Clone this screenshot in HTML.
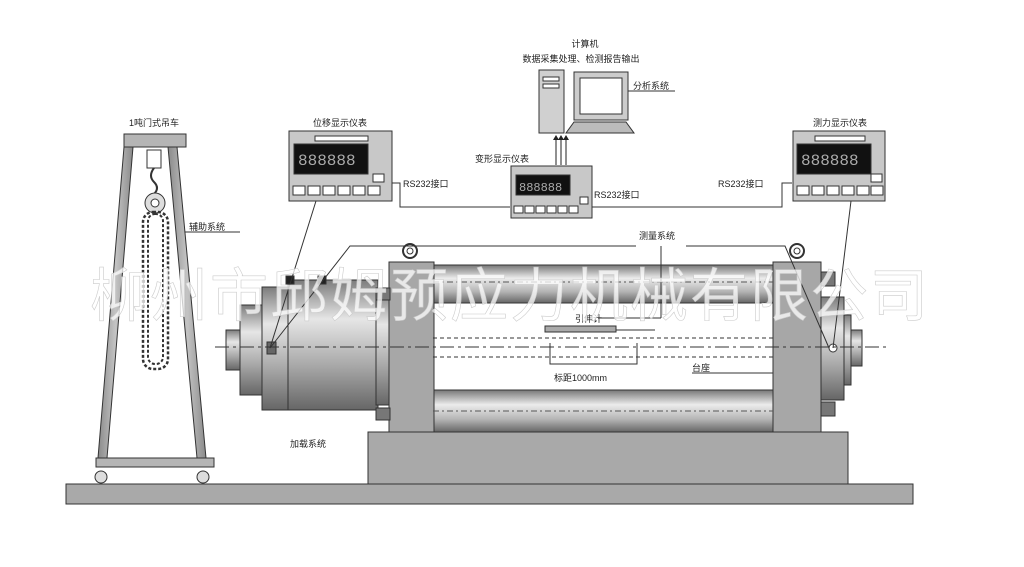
<!DOCTYPE html>
<html><head><meta charset="utf-8"><style>
html,body{margin:0;padding:0;background:#fff;}
svg{display:block;font-family:"Liberation Sans","Noto Sans CJK SC",sans-serif;}
</style></head><body>
<svg width="1024" height="567" viewBox="0 0 1024 567" xmlns="http://www.w3.org/2000/svg">
<defs>
<linearGradient id="rod" x1="0" y1="0" x2="0" y2="1">
<stop offset="0" stop-color="#777"/><stop offset="0.35" stop-color="#ececec"/><stop offset="0.7" stop-color="#b4b4b4"/><stop offset="1" stop-color="#666"/></linearGradient>
<linearGradient id="cyl" x1="0" y1="0" x2="0" y2="1">
<stop offset="0" stop-color="#7c7c7c"/><stop offset="0.3" stop-color="#e6e6e6"/><stop offset="0.65" stop-color="#aaa"/><stop offset="1" stop-color="#666"/></linearGradient>
<linearGradient id="leg" x1="0" y1="0" x2="1" y2="0">
<stop offset="0" stop-color="#8a8a8a"/><stop offset="0.5" stop-color="#c4c4c4"/><stop offset="1" stop-color="#8a8a8a"/></linearGradient>
</defs>
<g stroke="#333" stroke-width="1">
<rect x="66" y="484" width="847" height="20" fill="#a9a9a9"/>
<rect x="368" y="432" width="480" height="52" fill="#a9a9a9"/>
<rect x="124" y="134" width="62" height="13" fill="#b5b5b5"/>
<polygon points="124,147 133,147 107,458 98,458" fill="url(#leg)"/>
<polygon points="168,147 177,147 206,458 197,458" fill="url(#leg)"/>
<rect x="96" y="458" width="118" height="9" fill="#b5b5b5"/>
<circle cx="101" cy="477" r="6" fill="#ddd"/><circle cx="203" cy="477" r="6" fill="#ddd"/>
<rect x="147" y="150" width="14" height="18" fill="#fff"/>
<path d="M154,168 q-6,8 0,14 q6,6 0,12" fill="none" stroke-width="2"/>
<circle cx="155" cy="203" r="10" fill="#ddd"/><circle cx="155" cy="203" r="4" fill="#fff"/>
<rect x="143" y="212" width="25" height="157" rx="10" fill="none" stroke-width="2.5" stroke-dasharray="3,2"/>
<rect x="148" y="214" width="15" height="150" rx="7" fill="none" stroke-width="2" stroke-dasharray="3,2"/>
<rect x="226" y="330" width="16" height="40" fill="url(#cyl)"/>
<rect x="240" y="305" width="24" height="90" fill="url(#cyl)"/>
<rect x="262" y="287" width="28" height="123" fill="url(#cyl)"/>
<rect x="288" y="280" width="90" height="130" fill="url(#cyl)"/>
<rect x="376" y="290" width="14" height="115" fill="url(#cyl)"/>
<rect x="433" y="265" width="342" height="38" fill="url(#rod)"/>
<rect x="433" y="390" width="342" height="42" fill="url(#rod)"/>
<rect x="389" y="262" width="45" height="170" fill="#a7a7a7"/>
<rect x="773" y="262" width="48" height="170" fill="#a7a7a7"/>
<circle cx="410" cy="251" r="7" fill="#fff" stroke-width="2"/><circle cx="410" cy="251" r="3" fill="#fff"/>
<circle cx="797" cy="251" r="7" fill="#fff" stroke-width="2"/><circle cx="797" cy="251" r="3" fill="#fff"/>
<rect x="376" y="288" width="14" height="12" fill="#777"/><rect x="376" y="408" width="14" height="12" fill="#777"/>
<rect x="821" y="272" width="14" height="14" fill="#777"/><rect x="821" y="402" width="14" height="14" fill="#777"/>
<rect x="821" y="297" width="23" height="103" fill="url(#cyl)"/>
<rect x="844" y="315" width="7" height="70" fill="url(#cyl)"/>
<rect x="851" y="330" width="11" height="36" fill="url(#cyl)"/>
<circle cx="833" cy="348" r="4" fill="#fff"/>
<rect x="267" y="342" width="9" height="12" fill="#666"/>
<rect x="286" y="276" width="8" height="8" fill="#222"/><rect x="318" y="276" width="8" height="8" fill="#222"/>
</g>
<g fill="none" stroke="#333">
<line x1="215" y1="347" x2="890" y2="347" stroke-dasharray="14,4,3,4"/>
<line x1="433" y1="338" x2="773" y2="338" stroke-dasharray="4,3"/>
<line x1="433" y1="357" x2="773" y2="357" stroke-dasharray="4,3"/>
<line x1="433" y1="282" x2="773" y2="282" stroke-dasharray="6,3,2,3" stroke="#555"/>
<line x1="433" y1="411" x2="773" y2="411" stroke-dasharray="6,3,2,3" stroke="#555"/>
<polyline points="550,343 550,364 637,364 637,343"/>
<line x1="616" y1="330" x2="655" y2="330"/>
<line x1="598" y1="318" x2="661" y2="318"/>
<line x1="661" y1="246" x2="661" y2="318"/>
<polyline points="270,348 350,246 636,246"/>
<polyline points="686,246 785,246 829,348"/>
<line x1="692" y1="373" x2="773" y2="373"/>
<line x1="316" y1="201" x2="270" y2="348"/>
<line x1="851" y1="201" x2="833" y2="348"/>
<line x1="185" y1="232" x2="240" y2="232"/>
<polyline points="392,183 400,183 400,207 510,207"/>
<polyline points="592,207 782,207 782,183 792,183"/>
<line x1="626" y1="91" x2="675" y2="91"/>
</g>
<rect x="545" y="326" width="71" height="6" fill="#aaa" stroke="#333"/>
<g stroke="#333">
<rect x="289" y="131" width="103" height="70" fill="#c8c8c8"/>
<rect x="315" y="136" width="53" height="5" fill="#fff"/>
<rect x="294" y="144" width="74" height="30" fill="#111"/>
<rect x="793" y="131" width="92" height="70" fill="#c8c8c8"/>
<rect x="815" y="136" width="50" height="5" fill="#fff"/>
<rect x="797" y="144" width="74" height="30" fill="#111"/>
<rect x="511" y="166" width="81" height="52" fill="#c8c8c8"/>
<rect x="516" y="175" width="54" height="20" fill="#111"/>
<rect x="539" y="70" width="25" height="63" fill="#d0d0d0"/>
<rect x="574" y="72" width="54" height="48" fill="#ccc"/>
<rect x="580" y="78" width="42" height="36" fill="#fff"/>
<polygon points="574,122 626,122 634,133 566,133" fill="#bbb"/>
</g>
<g fill="#fff" stroke="#333">
<rect x="293" y="186" width="12" height="9"/><rect x="308" y="186" width="12" height="9"/><rect x="323" y="186" width="12" height="9"/><rect x="338" y="186" width="12" height="9"/><rect x="353" y="186" width="12" height="9"/><rect x="368" y="186" width="12" height="9"/><rect x="373" y="174" width="11" height="8"/>
<rect x="797" y="186" width="12" height="9"/><rect x="812" y="186" width="12" height="9"/><rect x="827" y="186" width="12" height="9"/><rect x="842" y="186" width="12" height="9"/><rect x="857" y="186" width="12" height="9"/><rect x="871" y="186" width="12" height="9"/><rect x="871" y="174" width="11" height="8"/>
<rect x="514" y="206" width="9" height="7"/><rect x="525" y="206" width="9" height="7"/><rect x="536" y="206" width="9" height="7"/><rect x="547" y="206" width="9" height="7"/><rect x="558" y="206" width="9" height="7"/><rect x="569" y="206" width="9" height="7"/><rect x="580" y="197" width="8" height="7"/>
<rect x="543" y="77" width="16" height="4"/><rect x="543" y="84" width="16" height="4"/>
</g>
<g font-size="16" fill="#aaa" font-family="Liberation Mono,monospace">
<text x="298" y="165">888888</text><text x="801" y="165">888888</text>
<text x="519" y="191" font-size="12">888888</text></g>
<g stroke="#222" fill="none">
<line x1="556" y1="165" x2="556" y2="140"/><line x1="561" y1="165" x2="561" y2="140"/><line x1="566" y1="165" x2="566" y2="140"/></g>
<g fill="#222"><polygon points="553,140 559,140 556,135"/><polygon points="558,140 564,140 561,135"/><polygon points="563,140 569,140 566,135"/></g>
<g font-size="9" fill="#222">
<text x="585" y="47" text-anchor="middle">计算机</text>
<text x="581" y="62" text-anchor="middle">数据采集处理、检测报告输出</text>
<text x="633" y="89">分析系统</text>
<text x="340" y="126" text-anchor="middle">位移显示仪表</text>
<text x="840" y="126" text-anchor="middle">测力显示仪表</text>
<text x="154" y="126" text-anchor="middle">1吨门式吊车</text>
<text x="475" y="162">变形显示仪表</text>
<text x="403" y="187">RS232接口</text>
<text x="594" y="198">RS232接口</text>
<text x="718" y="187">RS232接口</text>
<text x="189" y="230">辅助系统</text>
<text x="639" y="239">测量系统</text>
<text x="575" y="322">引伸计</text>
<text x="554" y="381">标距1000mm</text>
<text x="692" y="371">台座</text>
<text x="290" y="447">加载系统</text>
</g>
<text x="510" y="316" font-size="58" text-anchor="middle" fill="#fff" fill-opacity="0.75" stroke="#ccc" stroke-width="0.6" letter-spacing="2">柳州市邱姆预应力机械有限公司</text>
</svg>
</body></html>
